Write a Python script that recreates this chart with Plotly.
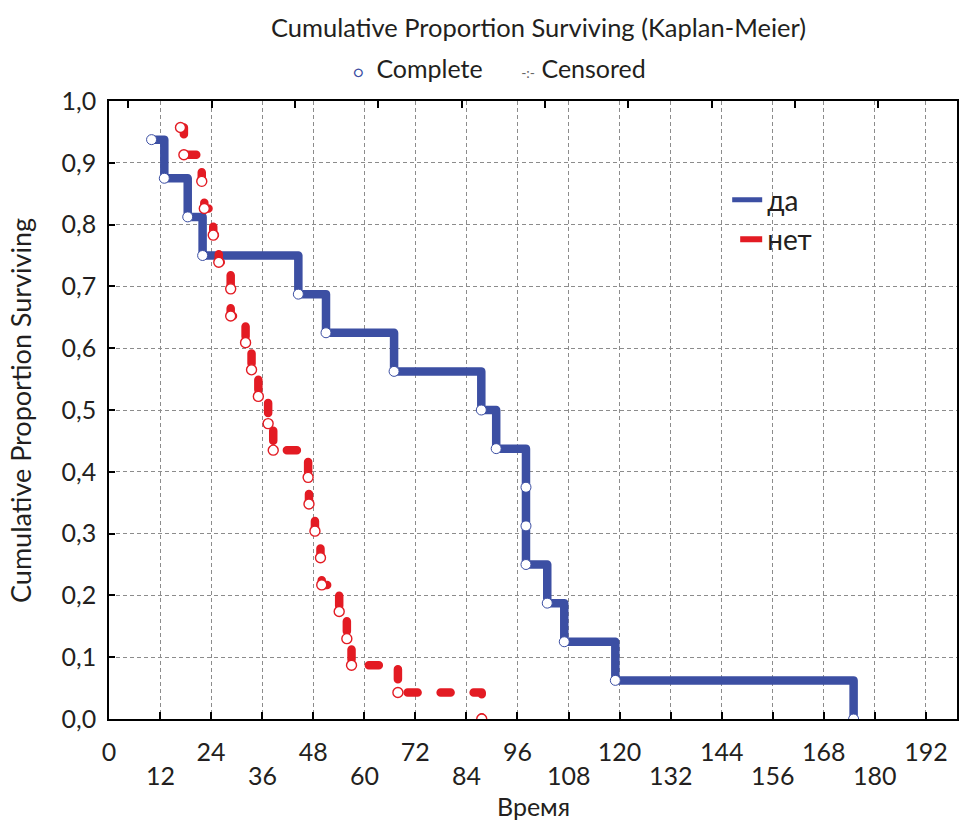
import plotly.graph_objects as go

# ---- data ----
blue_name = "да"
blue_t = [10, 13, 18.5, 22, 44.5, 51, 67, 87.5, 91, 98, 98, 98, 103, 107, 119, 175]
blue_s = [0.9375, 0.875, 0.8125, 0.75, 0.6875, 0.625, 0.5625, 0.5, 0.4375,
          0.375, 0.3125, 0.25, 0.1875, 0.125, 0.0625, 0.0]

red_name = "нет"
red_t = [16.8, 17.6, 21.8, 22.4, 24.5, 25.8, 28.6, 28.6, 32.1, 33.5, 35.1, 37.4,
         38.6, 46.8, 47.0, 48.4, 49.7, 50.0, 54.1, 55.9, 57.0, 67.9, 87.6]
red_s = [0.957, 0.913, 0.870, 0.826, 0.783, 0.739, 0.696, 0.652, 0.609, 0.565,
         0.522, 0.478, 0.435, 0.391, 0.348, 0.304, 0.261, 0.217, 0.174, 0.130,
         0.087, 0.043, 0.0]

x_tickvals = [0, 12, 24, 36, 48, 60, 72, 84, 96, 108, 120, 132, 144, 156, 168, 180, 192]
x_ticklabels = ["0", "12", "24", "36", "48", "60", "72", "84", "96", "108", "120",
                "132", "144", "156", "168", "180", "192"]
y_tickvals = [0.0, 0.1, 0.2, 0.3, 0.4, 0.5, 0.6, 0.7, 0.8, 0.9, 1.0]
y_ticklabels = ["0,0", "0,1", "0,2", "0,3", "0,4", "0,5", "0,6", "0,7", "0,8", "0,9", "1,0"]

title_text = "Cumulative Proportion Surviving (Kaplan-Meier)"
x_title = "Время"
y_title = "Cumulative Proportion Surviving"

BLUE = "#3c4fa3"
RED = "#e31b23"
FONT = "Lato"
TXT = "#231f20"

fig = go.Figure()

# step lines
fig.add_trace(go.Scatter(
    x=blue_t, y=blue_s, mode="lines+markers", line=dict(color=BLUE, width=8.5, shape="hv"),
    marker=dict(symbol="circle", size=10, color="white", line=dict(color=BLUE, width=1)),
    showlegend=False, hoverinfo="skip"))
fig.add_trace(go.Scatter(
    x=red_t, y=red_s, mode="lines", line=dict(color=RED, width=8.5, shape="hv", dash="10px,23px"),
    showlegend=False, hoverinfo="skip"))
fig.add_trace(go.Scatter(
    x=red_t, y=red_s, mode="markers",
    marker=dict(symbol="circle", size=10, color="white", line=dict(color=RED, width=1.4)),
    showlegend=False, hoverinfo="skip"))

# legend entries
fig.add_trace(go.Scatter(x=[None], y=[None], mode="lines", name=blue_name,
                         line=dict(color=BLUE, width=5)))
fig.add_trace(go.Scatter(x=[None], y=[None], mode="lines", name=red_name,
                         line=dict(color=RED, width=6, dash="0px,8px,24px,40px")))

# first row of x tick labels on the axis; second (staggered) row as annotations
x_ticktext = [lab if i % 2 == 0 else "" for i, lab in enumerate(x_ticklabels)]

fig.update_layout(
    width=959, height=825,
    margin=dict(l=109, r=2, t=101, b=106),
    paper_bgcolor="white", plot_bgcolor="white",
    font=dict(family=FONT, size=25, color=TXT),
    showlegend=True,
    legend=dict(x=0.729, y=0.880, xanchor="left", yanchor="top",
                bgcolor="rgba(0,0,0,0)", font=dict(size=28, color=TXT),
                tracegroupgap=0),
    xaxis=dict(range=[0, 199.3], tickmode="array", tickvals=x_tickvals, ticktext=x_ticktext,
               ticks="inside", ticklen=7, tickwidth=1.5, tickcolor="black",
               showline=True, linecolor="black", linewidth=1.5, mirror=True,
               showgrid=True, gridcolor="#8c8c8c", gridwidth=1, griddash="4px,3px",
               zeroline=False, ticklabelstandoff=10, tickfont=dict(size=25),
               automargin=False),
    yaxis=dict(range=[0, 1.0], tickmode="array", tickvals=y_tickvals, ticktext=y_ticklabels,
               ticks="inside", ticklen=6, tickwidth=1.5, tickcolor="black",
               showline=True, linecolor="black", linewidth=1.5, mirror=True,
               showgrid=True, gridcolor="#8c8c8c", gridwidth=1, griddash="4px,3px",
               zeroline=False, ticklabelstandoff=6, tickfont=dict(size=25),
               automargin=False),
    xaxis2=dict(overlaying="x", side="top", range=[-0.233, 9.947], tickmode="linear",
                tick0=0, dtick=1, ticks="inside", ticklen=7, tickwidth=1.5, tickcolor="black",
                showticklabels=False, showgrid=False, zeroline=False, showline=False,
                automargin=False),
)

# invisible trace to activate top axis
fig.add_trace(go.Scatter(x=[None], y=[None], xaxis="x2", showlegend=False, hoverinfo="skip"))

for i, (v, lab) in enumerate(zip(x_tickvals, x_ticklabels)):
    if i % 2 == 1:
        fig.add_annotation(text=lab, xref="x", yref="paper", x=v, y=-0.0906,
                           showarrow=False, font=dict(size=25, color=TXT),
                           xanchor="center", yanchor="middle")

fig.add_annotation(text=title_text, xref="paper", yref="paper", x=0.506, y=1.1197,
                   showarrow=False, font=dict(size=25.5, color=TXT), xanchor="center", yanchor="middle")
fig.add_annotation(
    text="<span style='color:%s;font-size:16px'>○</span>  Complete      "
         "<span style='color:#666;font-size:14px'>-:-</span> Censored" % BLUE,
    xref="paper", yref="paper", x=0.46, y=1.0534, showarrow=False,
    font=dict(size=25, color=TXT), xanchor="center", yanchor="middle")
fig.add_annotation(text=y_title, xref="paper", yref="paper", x=-0.105, y=0.5, textangle=-90,
                   showarrow=False, font=dict(size=27, color=TXT), xanchor="center", yanchor="middle")
fig.add_annotation(text=x_title, xref="paper", yref="paper", x=0.5, y=-0.1408,
                   showarrow=False, font=dict(size=25, color=TXT), xanchor="center", yanchor="middle")

post = ("document.body.style.margin='0';document.body.style.overflow='hidden';"
        "document.querySelectorAll('.scatterlayer .js-line').forEach(function(p){"
        "p.style.strokeLinecap='round';p.style.strokeLinejoin='round';});")
fig.write_html("out.html", post_script=post, config={"displayModeBar": False})
